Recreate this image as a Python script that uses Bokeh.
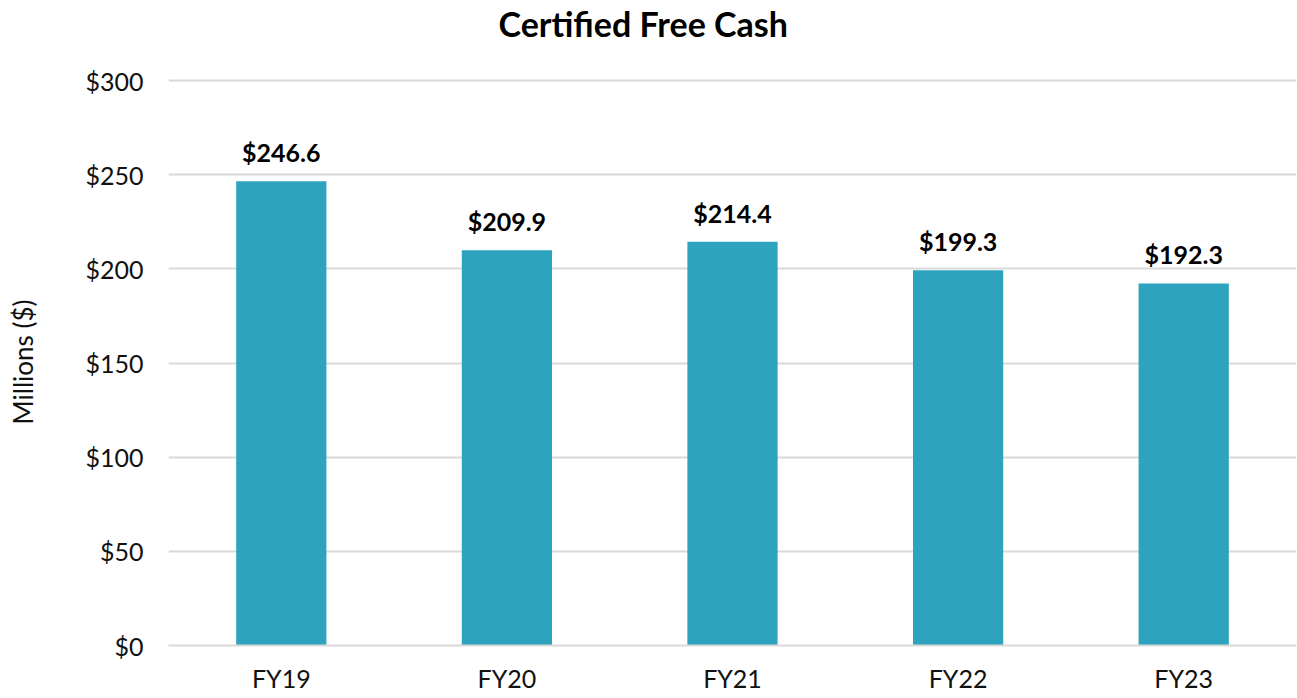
from bokeh.plotting import figure
from bokeh.models import ColumnDataSource, Range1d, FactorRange, LabelSet, Title, NumeralTickFormatter, SingleIntervalTicker
from bokeh.core.properties import value
from bokeh.embed import file_html
from bokeh.resources import INLINE

categories = ["FY19", "FY20", "FY21", "FY22", "FY23"]
values = [246.6, 209.9, 214.4, 199.3, 192.3]
labels = ["$246.6", "$209.9", "$214.4", "$199.3", "$192.3"]
title_text = "Certified Free Cash"

FONT = "Lato"
src = ColumnDataSource(dict(cat=categories, val=values, lab=labels))

p = figure(x_range=FactorRange(*categories, range_padding=0), y_range=Range1d(0, 301.1),
           width=1297, height=698, output_backend="svg", toolbar_location=None,
           min_border_left=168, min_border_right=1, min_border_top=78, min_border_bottom=53)
p.x_range.range_padding = 0
p.outline_line_color = None
p.background_fill_color = "white"
p.border_fill_color = "white"

p.vbar(x="cat", top="val", width=0.4, source=src, color="#2ea3be", line_color=None)

# spacer panel between frame and title, then the title on top
p.add_layout(Title(text=" ", text_font=FONT, text_font_size="27px", standoff=0), "above")
p.add_layout(Title(text=title_text, align="left", offset=330, standoff=0,
                   text_font=FONT, text_font_size="34px", text_font_style="bold",
                   text_color="black"), "above")

p.yaxis.ticker = SingleIntervalTicker(interval=50)
p.yaxis.formatter = NumeralTickFormatter(format="$0")
p.yaxis.axis_line_color = None
p.yaxis.major_tick_line_color = None
p.yaxis.minor_tick_line_color = None
p.yaxis.major_label_text_font = FONT
p.yaxis.major_label_text_font_size = "25px"
p.yaxis.major_label_text_color = "#111111"
p.yaxis.major_label_standoff = 19
p.yaxis.axis_label = "Millions ($)"
p.yaxis.axis_label_text_font = FONT
p.yaxis.axis_label_text_font_size = "26px"
p.yaxis.axis_label_text_font_style = "normal"
p.yaxis.axis_label_text_color = "#111111"
p.yaxis.axis_label_standoff = 43

p.xaxis.axis_line_color = "#d9d9d9"
p.xaxis.axis_line_width = 2
p.xaxis.major_tick_line_color = None
p.xaxis.minor_tick_line_color = None
p.xaxis.major_label_text_font = FONT
p.xaxis.major_label_text_font_size = "25px"
p.xaxis.major_label_text_color = "#111111"
p.xaxis.major_label_standoff = 11

p.xgrid.grid_line_color = None
p.ygrid.grid_line_color = "#d9d9d9"
p.ygrid.grid_line_width = 2

lbl = LabelSet(x="cat", y="val", text="lab", source=src, text_align="center",
               text_baseline="bottom", y_offset=14, text_font=value(FONT),
               text_font_size="25px", text_font_style="bold", text_color="black")
p.add_layout(lbl)

open("out.html", "w").write(file_html(p, INLINE))
